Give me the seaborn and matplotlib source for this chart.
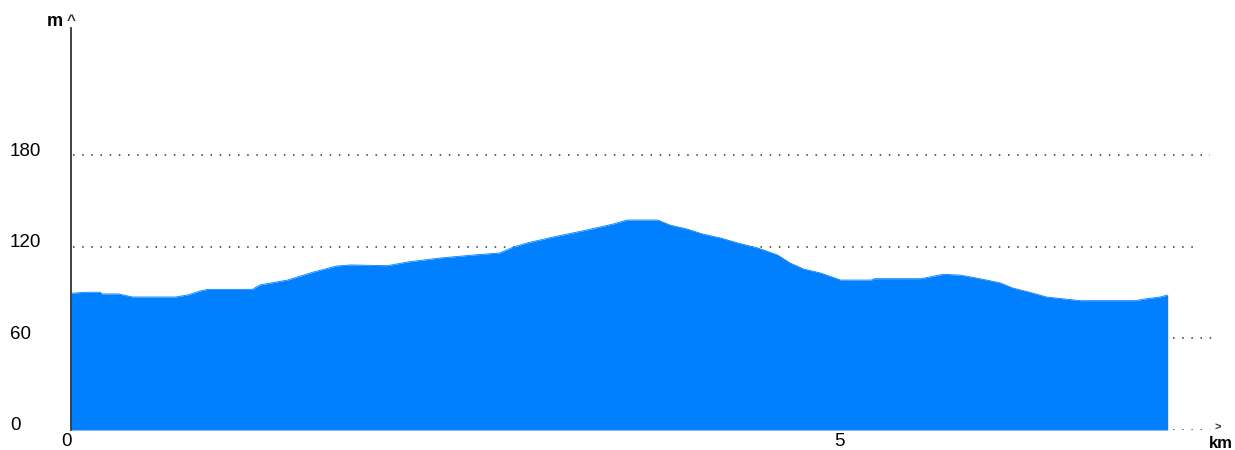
import matplotlib
matplotlib.use("Agg")
import matplotlib.pyplot as plt
import matplotlib.transforms as mtransforms
import seaborn as sns
import numpy as np
import pandas as pd

# ---- data ----
distance_km = [0.00, 0.09, 0.19, 0.20, 0.31, 0.35, 0.40, 0.68, 0.76, 0.84, 0.89,
               1.18, 1.23, 1.41, 1.58, 1.73, 1.82, 2.06, 2.19, 2.40, 2.62, 2.79,
               2.88, 2.97, 3.14, 3.36, 3.53, 3.62, 3.82, 3.90, 4.01, 4.11, 4.23,
               4.34, 4.47, 4.60, 4.68, 4.77, 4.88, 5.01, 5.21, 5.23, 5.53, 5.58,
               5.68, 5.79, 5.87, 5.97, 6.05, 6.13, 6.26, 6.35, 6.47, 6.57, 6.93,
               6.99, 7.09, 7.14]
elevation_m = [89.5, 90.2, 90.2, 89.1, 89.1, 88.2, 87.1, 87.1, 88.4, 91.0, 92.1,
               92.1, 95.0, 98.2, 103.5, 107.4, 108.1, 107.6, 110.0, 112.6, 114.6, 115.9,
               119.8, 122.5, 126.4, 131.0, 134.9, 137.5, 137.5, 134.2, 131.6, 128.4, 125.7,
               122.5, 119.2, 114.6, 109.4, 105.4, 102.8, 98.2, 98.2, 99.1, 99.1, 100.0,
               102.0, 101.4, 100.0, 98.0, 96.3, 93.0, 89.7, 87.1, 85.8, 84.7, 84.7,
               85.8, 87.1, 88.4]
y_ticks = [0, 60, 120, 180]
y_tick_labels = ["0", "60", "120", "180"]
x_ticks = [0, 5]
x_tick_labels = ["0", "5"]
y_unit = "m"
x_unit = "km"

df = pd.DataFrame({"km": distance_km, "m": elevation_m})

sns.set_theme(style="white")
plt.rcParams["font.family"] = ["Liberation Sans", "DejaVu Sans"]

W, H, DPI = 1235, 450, 100
fig = plt.figure(figsize=(W / DPI, H / DPI), dpi=DPI)
ax_left, ax_right, ax_top, ax_bottom = 71, 1215, 28, 430
ax = fig.add_axes([ax_left / W, (H - ax_bottom) / H,
                   (ax_right - ax_left) / W, (ax_bottom - ax_top) / H])

px_per_km = 153.6
px_per_m = 1.527
ax.set_xlim(0, (ax_right - ax_left) / px_per_km)
ax.set_ylim(0, (ax_bottom - ax_top) / px_per_m)

blue = "#0080FF"
ax.fill_between(df["km"], df["m"], 0, color=blue, linewidth=0, zorder=3)
sns.lineplot(data=df, x="km", y="m", ax=ax, color=blue, linewidth=0.6, zorder=3)

# dotted grid lines (different end points as in reference)
grid_ends_px = {180: 1210, 120: 1195, 60: 1212, 0: 1210}
for val in y_ticks:
    xend = (grid_ends_px[val] - ax_left) / px_per_km
    ax.hlines(val, 0.01, xend, colors="#333333", linestyles=(0, (1, 5)),
              linewidth=1.1, zorder=1)

for s in ["top", "right", "bottom"]:
    ax.spines[s].set_visible(False)
ax.spines["left"].set_color("#333333")
ax.spines["left"].set_linewidth(1.3)
ax.spines["left"].set_zorder(4)

ax.set_xlabel("")
ax.set_ylabel("")
ax.set_yticks(y_ticks)
ax.set_yticklabels(y_tick_labels)
ax.set_xticks(x_ticks)
ax.set_xticklabels(x_tick_labels)
ax.tick_params(axis="both", length=0, labelsize=13.5, colors="#000000")
ax.tick_params(axis="y", pad=(ax_left - 10) * 72 / DPI)
ax.tick_params(axis="x", pad=2)
shift = mtransforms.ScaledTranslation(0, 6 / DPI, fig.dpi_scale_trans)
for lab in ax.get_yticklabels():
    lab.set_ha("left")
    lab.set_transform(lab.get_transform() + shift)
xlabs = ax.get_xticklabels()
xlabs[0].set_transform(xlabs[0].get_transform() +
                       mtransforms.ScaledTranslation(-4 / DPI, 0, fig.dpi_scale_trans))

# axis unit labels
def fig_xy(px, py):
    return px / W, 1 - py / H

fig.text(*fig_xy(55, 22), y_unit, ha="center", va="center", fontsize=13,
         fontweight="bold", color="#000000")
fig.text(*fig_xy(71, 21), "^", ha="center", va="center", fontsize=11,
         fontweight="bold", color="#333333")
fig.text(*fig_xy(1218, 428), ">", ha="center", va="center", fontsize=8,
         fontweight="bold", color="#333333")
fig.text(*fig_xy(1221, 443), x_unit, ha="center", va="center", fontsize=12,
         fontweight="bold", color="#000000")

fig.savefig("out.png", dpi=DPI, facecolor="white")
